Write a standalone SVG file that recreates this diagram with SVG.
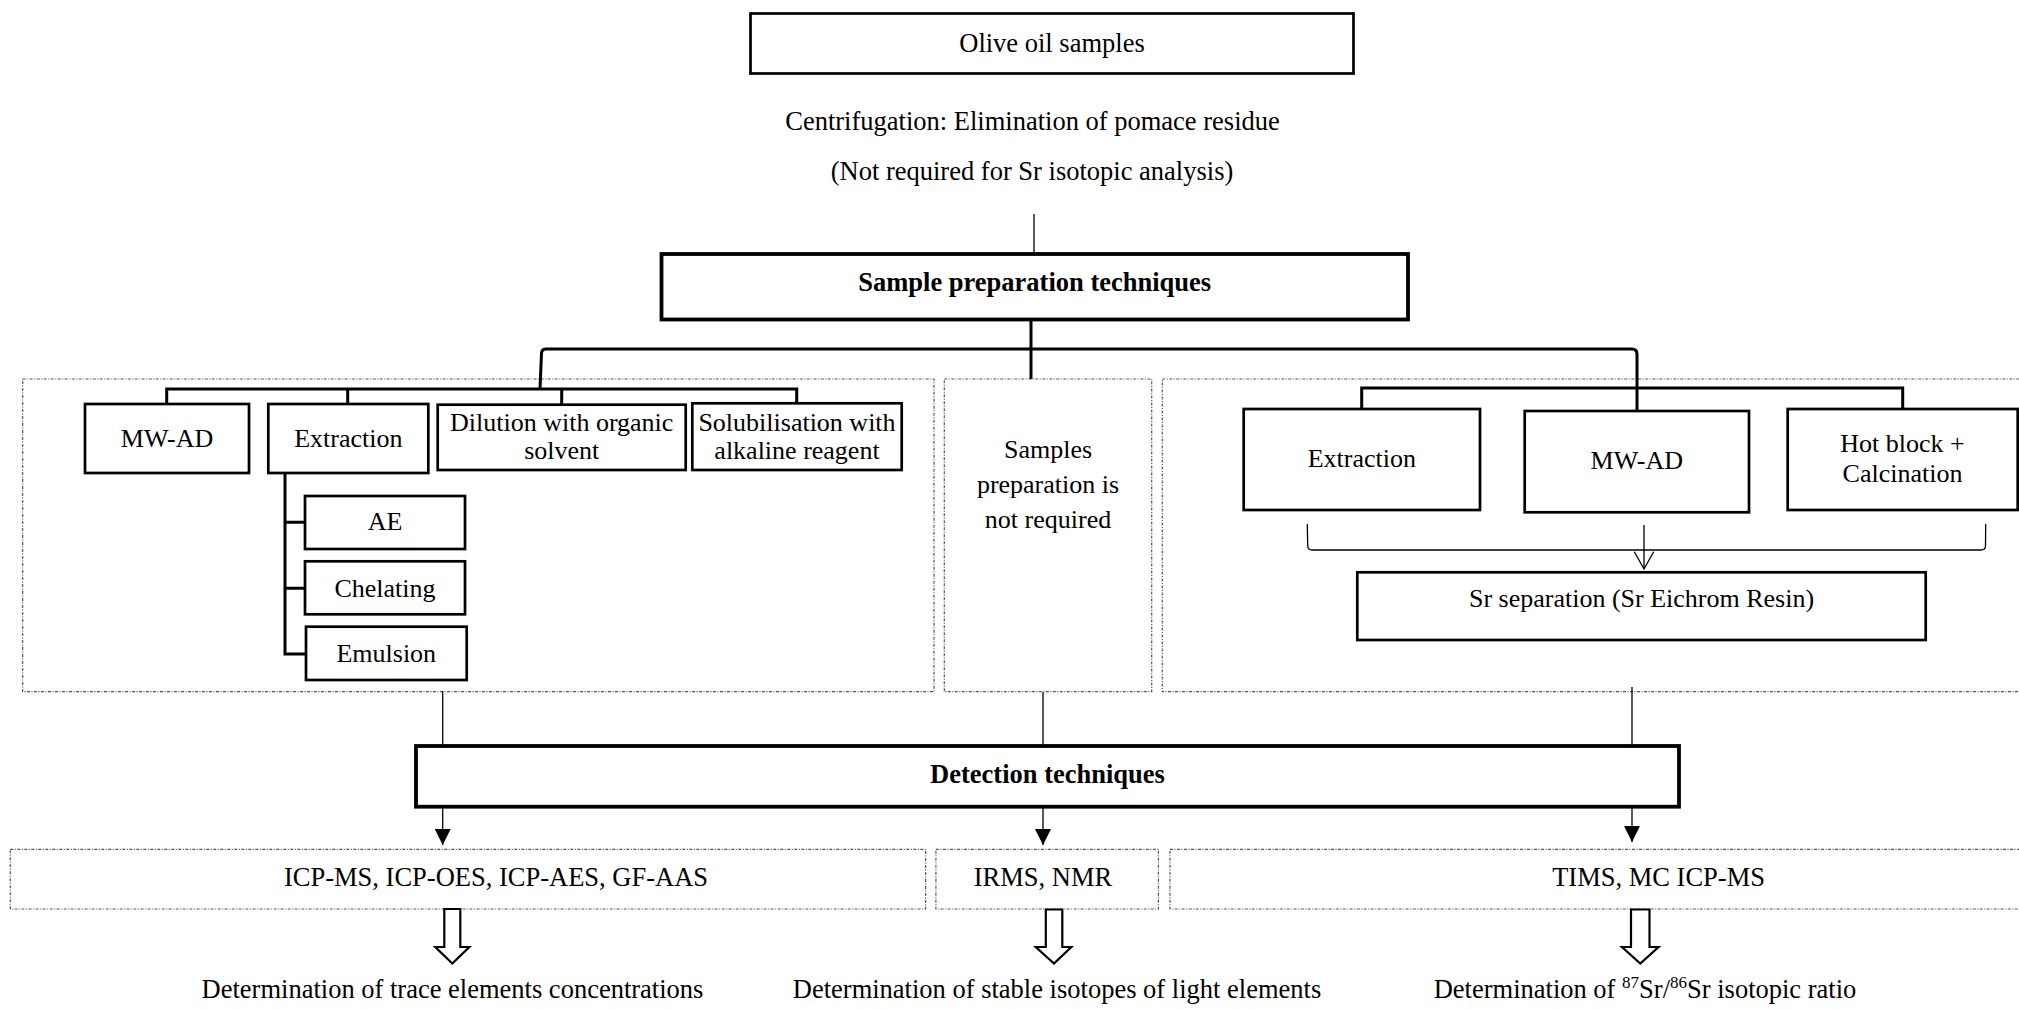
<svg xmlns="http://www.w3.org/2000/svg" width="2019" height="1009" viewBox="0 0 2019 1009">
<style>
text{font-family:"Liberation Serif","Times New Roman",serif;font-size:26.5px;fill:#000;text-anchor:middle}
.b{font-weight:bold}
.p{font-size:26px}
.box{fill:#fff;stroke:#000;stroke-width:2.7}
.bold{fill:#fff;stroke:#000;stroke-width:3.8}
.panel{fill:none;stroke:#555;stroke-width:1.2;stroke-dasharray:3 1.5 1 1.5}
.thick{fill:none;stroke:#000;stroke-width:3}
.thin{fill:none;stroke:#000;stroke-width:1.3}
.blk{fill:#fff;stroke:#000;stroke-width:2.2}
</style>
<defs>
<marker id="tri" markerUnits="userSpaceOnUse" markerWidth="16" markerHeight="16" refX="16" refY="8" orient="auto">
<path d="M0,0 L16,8 L0,16 z" fill="#000"/>
</marker>
</defs>
<rect width="2019" height="1009" fill="#fff"/>

<g id="panels">
<rect id="panel-left" class="panel" x="22.7" y="379" width="911.3" height="312.7"/>
<rect id="panel-mid" class="panel" x="944.3" y="379" width="207.4" height="312.7"/>
<rect id="panel-right" class="panel" x="1162.3" y="379" width="870" height="312.7"/>
<rect id="panel-det-left" class="panel" x="10.3" y="849.3" width="915.3" height="59.7"/>
<rect id="panel-det-mid" class="panel" x="935.9" y="849.3" width="222.5" height="59.7"/>
<rect id="panel-det-right" class="panel" x="1170" y="849.3" width="870" height="59.7"/>
</g>

<g id="connectors">
<line class="thin" x1="1034" y1="214" x2="1034" y2="253"/>
<line class="thick" x1="1031" y1="321" x2="1031" y2="379"/>
<path class="thick" d="M540 389 L541.5 353 Q542 349 546 349 L1632 349 Q1637 349 1637 354 L1637 411"/>
<path class="thick" d="M166.7 404 L166.7 389 L796.7 389 L796.7 403.3 M347.7 389 L347.7 404 M561.7 389 L561.7 404.7"/>
<path class="thick" d="M285 473 L285 654 L306 654 M285 522.3 L305 522.3 M285 588.3 L305 588.3"/>
<path class="thick" d="M1361.7 409 L1361.7 388 L1902.7 388 L1902.7 408.3"/>
<path class="thin" d="M1307.3 524 L1307.7 546 Q1308 550 1312 550 L1981 550 Q1985.5 550 1985.5 546 L1985.7 524"/>
<line class="thin" x1="1644" y1="525" x2="1644" y2="568"/>
<polyline class="thin" points="1634.3,551.7 1644,569 1653.7,551.7"/>
<line class="thin" x1="442.7" y1="691" x2="442.7" y2="746"/>
<line class="thin" x1="1043" y1="692" x2="1043" y2="746"/>
<line class="thin" x1="1632" y1="687" x2="1632" y2="746"/>
<line class="thin" x1="442.7" y1="808" x2="442.7" y2="845" marker-end="url(#tri)"/>
<line class="thin" x1="1043" y1="808" x2="1043" y2="845" marker-end="url(#tri)"/>
<line class="thin" x1="1632" y1="808" x2="1632" y2="842" marker-end="url(#tri)"/>
<polygon class="blk" points="444.3,909 460.3,909 460.3,947 469.3,947 452.3,963.5 435.3,947 444.3,947"/>
<polygon class="blk" points="1045.8,909.5 1062.3,909.5 1062.3,947 1071.3,947 1054,963.5 1035.8,947 1045.8,947"/>
<polygon class="blk" points="1631,909.5 1649.5,909.5 1649.5,947 1658.5,947 1640.3,963.5 1622,947 1631,947"/>
</g>

<g id="olive-oil-samples">
<rect class="box" x="750.5" y="13.5" width="603" height="60"/>
<text x="1052" y="52">Olive oil samples</text>
</g>
<g id="centrifugation">
<text x="1032.5" y="130">Centrifugation: Elimination of pomace residue</text>
<text x="1032" y="180">(Not required for Sr isotopic analysis)</text>
</g>
<g id="sample-preparation">
<rect class="bold" x="661.5" y="254" width="746.5" height="65.5"/>
<text class="b" x="1034.7" y="291">Sample preparation techniques</text>
</g>

<g id="mwad-left">
<rect class="box" x="85" y="404" width="164" height="69"/>
<text class="p" x="167" y="446.7">MW-AD</text>
</g>
<g id="extraction-left">
<rect class="box" x="268.3" y="404" width="160" height="69"/>
<text class="p" x="348.3" y="446.7">Extraction</text>
</g>
<g id="dilution">
<rect class="box" x="437.7" y="404.7" width="248" height="65.3"/>
<text class="p" x="561.7" y="431">Dilution with organic</text>
<text class="p" x="561.7" y="459.3">solvent</text>
</g>
<g id="solubilisation">
<rect class="box" x="692.3" y="403.3" width="209.4" height="66.7"/>
<text class="p" x="797" y="431">Solubilisation with</text>
<text class="p" x="797" y="459.3">alkaline reagent</text>
</g>
<g id="ae">
<rect class="box" x="305" y="496" width="160" height="53"/>
<text class="p" x="385" y="530">AE</text>
</g>
<g id="chelating">
<rect class="box" x="305" y="561.3" width="160" height="53"/>
<text class="p" x="385" y="596.7">Chelating</text>
</g>
<g id="emulsion">
<rect class="box" x="306" y="626.7" width="160.7" height="53.3"/>
<text class="p" x="386.3" y="661.7">Emulsion</text>
</g>

<g id="no-preparation">
<text class="p" x="1048" y="458">Samples</text>
<text class="p" x="1048" y="493">preparation is</text>
<text class="p" x="1048" y="528">not required</text>
</g>

<g id="extraction-right">
<rect class="box" x="1243.7" y="409" width="236.3" height="101"/>
<text class="p" x="1361.8" y="466.7">Extraction</text>
</g>
<g id="mwad-right">
<rect class="box" x="1524.7" y="411" width="224.3" height="101.3"/>
<text class="p" x="1636.8" y="469">MW-AD</text>
</g>
<g id="hot-block">
<rect class="box" x="1787.7" y="409" width="230" height="101"/>
<text class="p" x="1902.5" y="452.3">Hot block +</text>
<text class="p" x="1902.5" y="481.7">Calcination</text>
</g>
<g id="sr-separation">
<rect class="box" x="1357.3" y="572.3" width="568.4" height="67.7"/>
<text class="p" x="1641.5" y="607.3">Sr separation (Sr Eichrom Resin)</text>
</g>

<g id="detection">
<rect class="bold" x="416" y="746" width="1263" height="60.7"/>
<text class="b" x="1047.5" y="783">Detection techniques</text>
</g>

<g id="det-left-text"><text x="496" y="886">ICP-MS, ICP-OES, ICP-AES, GF-AAS</text></g>
<g id="det-mid-text"><text x="1043" y="886">IRMS, NMR</text></g>
<g id="det-right-text"><text x="1658.6" y="886">TIMS, MC ICP-MS</text></g>

<g id="result-left"><text x="452.5" y="998">Determination of trace elements concentrations</text></g>
<g id="result-mid"><text x="1057" y="998">Determination of stable isotopes of light elements</text></g>
<g id="result-right"><text x="1645" y="998">Determination of <tspan dy="-10" font-size="17">87</tspan><tspan dy="10">Sr/</tspan><tspan dy="-10" font-size="17">86</tspan><tspan dy="10">Sr isotopic ratio</tspan></text></g>
</svg>
